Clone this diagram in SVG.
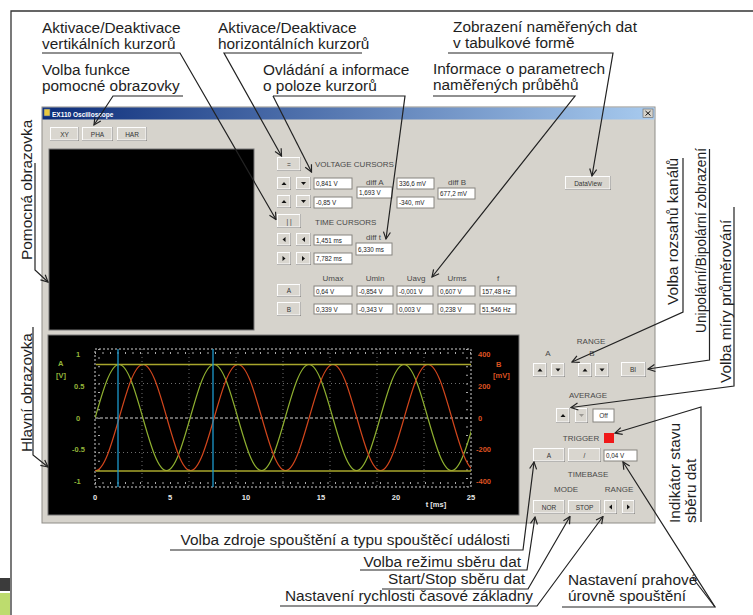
<svg xmlns="http://www.w3.org/2000/svg" width="753" height="615" viewBox="0 0 753 615">
<defs>
<linearGradient id="tb" x1="0" x2="1"><stop offset="0" stop-color="#0c2d7a"/><stop offset="1" stop-color="#a8cbef"/></linearGradient>
<marker id="ar" markerWidth="10" markerHeight="10" refX="0" refY="0" viewBox="-9 -5 10 10" orient="auto" markerUnits="userSpaceOnUse"><path d="M-7,-3.5 L0,0 L-7,3.5" fill="none" stroke="#222" stroke-width="1.2"/></marker>
<clipPath id="pc"><rect x="95" y="345" width="376" height="146"/></clipPath>
</defs>
<style>
.t{font-family:"Liberation Sans",Arial,sans-serif;font-size:15.4px;fill:#1e1e1e}
.c{fill:none;stroke:#222;stroke-width:1.2}
.w{font-family:"Liberation Sans",Arial,sans-serif;font-size:8px;fill:#4a4a4a}
.wm{font-family:"Liberation Sans",Arial,sans-serif;font-size:8px;fill:#4a4a4a;text-anchor:middle}
.bt{font-family:"Liberation Sans",Arial,sans-serif;font-size:6.5px;fill:#333;text-anchor:middle}
.ft{font-family:"Liberation Sans",Arial,sans-serif;font-size:6.3px;fill:#222}
.bs{fill:#6f6d69}
.bf{fill:#d9d6cf;stroke:#fdfdfd;stroke-width:1}
.f{fill:#fff;stroke:#86847f;stroke-width:1}
.ic{fill:#111}
.ax{font-family:"Liberation Sans",Arial,sans-serif;font-size:7.5px;font-weight:bold}
.g{fill:#93b53a}
.r{fill:#dc5222}
.xw{fill:#e8e8e8;text-anchor:middle}
</style>

<!-- page frame -->
<rect x="0" y="0" width="753" height="615" fill="#ffffff"/>
<path d="M11,615 V11 H753" fill="none" stroke="#333" stroke-width="1.3"/>
<rect x="0" y="578" width="10" height="13" fill="#3b3b3b"/>
<rect x="0" y="593" width="10" height="22" fill="#bddc6e"/>

<!-- window -->
<g id="window">
<rect x="42" y="107" width="613" height="416" fill="#d6d3cc" stroke="#8f8d88"/>
<rect x="42.5" y="107.5" width="612" height="12" fill="url(#tb)"/>
<rect x="44" y="109" width="6" height="7" fill="#e8c840" stroke="#3a5aa0" stroke-width="0.6"/>
<text x="52" y="116.5" font-family="Liberation Sans, Arial, sans-serif" font-size="6.5" font-weight="bold" fill="#fff">EX110 Oscilloscope</text>
<rect x="643" y="109" width="10" height="8.5" fill="#d6d3cc" stroke="#666" stroke-width="0.6"/>
<path d="M645.5,111 L650.5,115.5 M650.5,111 L645.5,115.5" stroke="#111" stroke-width="1"/>
</g>

<g id="btn-xy"><rect class="bs" x="50" y="127" width="29" height="14"/><rect class="bf" x="50.5" y="127.5" width="27.5" height="12.5"/><text class="bt" x="64.5" y="136.5">XY</text></g>
<g id="btn-pha"><rect class="bs" x="82" y="127" width="31" height="14"/><rect class="bf" x="82.5" y="127.5" width="29.5" height="12.5"/><text class="bt" x="97.5" y="136.5">PHA</text></g>
<g id="btn-har"><rect class="bs" x="117" y="127" width="30" height="14"/><rect class="bf" x="117.5" y="127.5" width="28.5" height="12.5"/><text class="bt" x="132" y="136.5">HAR</text></g>

<g id="aux-screen"><rect x="49" y="149" width="205" height="181" fill="#000" stroke="#777" stroke-width="1"/></g>

<!-- cursor panel -->
<g id="voltage-cursors">
<rect class="bs" x="277" y="157" width="24" height="14"/><rect class="bf" x="277.5" y="157.5" width="22.5" height="12.5"/><text class="bt" x="289" y="166.5">=</text>
<text class="w" x="315" y="167">VOLTAGE CURSORS</text>
<rect class="bs" x="277" y="177" width="14" height="13"/><rect class="bf" x="277.5" y="177.5" width="12.5" height="11.5"/><polygon class="ic" points="281.5,185 286.5,185 284,182"/>
<rect class="bs" x="296" y="177" width="15" height="13"/><rect class="bf" x="296.5" y="177.5" width="13.5" height="11.5"/><polygon class="ic" points="301,182 306,182 303.5,185"/>
<rect class="f" x="314" y="178" width="38" height="11"/><text class="ft" x="316" y="186">0,841 V</text>
<rect class="bs" x="277" y="195" width="14" height="13"/><rect class="bf" x="277.5" y="195.5" width="12.5" height="11.5"/><polygon class="ic" points="281.5,203 286.5,203 284,200"/>
<rect class="bs" x="296" y="195" width="15" height="13"/><rect class="bf" x="296.5" y="195.5" width="13.5" height="11.5"/><polygon class="ic" points="301,200 306,200 303.5,203"/>
<rect class="f" x="314" y="197" width="38" height="11"/><text class="ft" x="316" y="205">-0,85 V</text>
<text class="w" x="366" y="185">diff A</text>
<rect class="f" x="357" y="187" width="35" height="11"/><text class="ft" x="359" y="195">1,693 V</text>
<rect class="f" x="397" y="178" width="37" height="11"/><text class="ft" x="399" y="186">336,6 mV</text>
<rect class="f" x="397" y="197" width="37" height="11"/><text class="ft" x="399" y="205">-340, mV</text>
<text class="w" x="448" y="185">diff B</text>
<rect class="f" x="438" y="188" width="37" height="11"/><text class="ft" x="440" y="196">677,2 mV</text>
</g>

<g id="time-cursors">
<rect class="bs" x="277" y="214" width="24" height="14"/><rect class="bf" x="277.5" y="214.5" width="22.5" height="12.5"/><text class="bt" x="289" y="223.5">| |</text>
<text class="w" x="315" y="225">TIME CURSORS</text>
<rect class="bs" x="277" y="233" width="14" height="13"/><rect class="bf" x="277.5" y="233.5" width="12.5" height="11.5"/><polygon class="ic" points="285.5,237 285.5,242 282.5,239.5"/>
<rect class="bs" x="296" y="233" width="15" height="13"/><rect class="bf" x="296.5" y="233.5" width="13.5" height="11.5"/><polygon class="ic" points="305,237 305,242 302,239.5"/>
<rect class="f" x="314" y="235" width="38" height="10"/><text class="ft" x="316" y="242.5">1,451 ms</text>
<rect class="bs" x="277" y="252" width="14" height="13"/><rect class="bf" x="277.5" y="252.5" width="12.5" height="11.5"/><polygon class="ic" points="282.5,256 282.5,261 285.5,258.5"/>
<rect class="bs" x="296" y="252" width="15" height="13"/><rect class="bf" x="296.5" y="252.5" width="13.5" height="11.5"/><polygon class="ic" points="302,256 302,261 305,258.5"/>
<rect class="f" x="314" y="253" width="38" height="11"/><text class="ft" x="316" y="261">7,782 ms</text>
<text class="w" x="366" y="240">diff t</text>
<rect class="f" x="356" y="243" width="36" height="12"/><text class="ft" x="358" y="251.5">6,330 ms</text>
</g>

<g id="measurements">
<text class="wm" x="333" y="281">Umax</text>
<text class="wm" x="375" y="281">Umin</text>
<text class="wm" x="416" y="281">Uavg</text>
<text class="wm" x="457" y="281">Urms</text>
<text class="wm" x="498" y="281">f</text>
<rect class="bs" x="277" y="284" width="24" height="13"/><rect class="bf" x="277.5" y="284.5" width="22.5" height="11.5"/><text class="bt" x="289" y="293">A</text>
<rect class="bs" x="277" y="302" width="24" height="14"/><rect class="bf" x="277.5" y="302.5" width="22.5" height="12.5"/><text class="bt" x="289" y="311.5">B</text>
<rect class="f" x="314" y="286" width="38" height="10"/><text class="ft" x="316" y="293.5">0,64 V</text>
<rect class="f" x="357" y="286" width="36" height="10"/><text class="ft" x="359" y="293.5">-0,854 V</text>
<rect class="f" x="397" y="286" width="36" height="10"/><text class="ft" x="399" y="293.5">-0,001 V</text>
<rect class="f" x="438" y="286" width="37" height="10"/><text class="ft" x="440" y="293.5">0,607 V</text>
<rect class="f" x="480" y="286" width="36" height="10"/><text class="ft" x="482" y="293.5">157,48 Hz</text>
<rect class="f" x="314" y="304" width="38" height="10"/><text class="ft" x="316" y="311.5">0,339 V</text>
<rect class="f" x="357" y="304" width="36" height="10"/><text class="ft" x="359" y="311.5">-0,343 V</text>
<rect class="f" x="397" y="304" width="36" height="10"/><text class="ft" x="399" y="311.5">0,003 V</text>
<rect class="f" x="438" y="304" width="37" height="10"/><text class="ft" x="440" y="311.5">0,238 V</text>
<rect class="f" x="480" y="304" width="36" height="10"/><text class="ft" x="482" y="311.5">51,546 Hz</text>
</g>

<g id="btn-dataview"><rect class="bs" x="565" y="176" width="46" height="14"/><rect class="bf" x="565.5" y="176.5" width="44.5" height="12.5"/><text class="bt" x="588" y="185.5">DataView</text></g>

<!-- main screen -->
<g id="main-screen">
<rect x="48" y="335" width="471" height="180" fill="#000" stroke="#777" stroke-width="1"/>
<g stroke="#8a8a8a" stroke-width="0.8" stroke-dasharray="1,3">
<path d="M142,349 V487 M189,349 V487 M236,349 V487 M283,349 V487 M330,349 V487 M377,349 V487 M424,349 V487"/>
<path d="M95,383.5 H471 M95,452.5 H471"/>
</g>
<g stroke="#d0d0d0" stroke-width="1" fill="none">
<rect x="95" y="349" width="376" height="138" stroke-dasharray="2,2"/>
<path d="M95,418 H471" stroke-dasharray="3,2"/>
<path d="M95,353 H471 M95,483 H471" stroke-dasharray="1,6.5" stroke-width="2" stroke="#aaa"/>
<path d="M99,349 V487 M467,349 V487" stroke-dasharray="1,7.6" stroke-width="2" stroke="#aaa"/>
</g>
<g clip-path="url(#pc)" fill="none" stroke-width="1.2">
<path stroke="#8fb030" d="M95.25,417.5 c7.94,-27.83 15.2,-53 23.75,-53 c8.55,0 15.81,25.17 23.75,53 c7.94,27.83 15.2,53 23.75,53 c8.55,0 15.81,-25.17 23.75,-53 c7.94,-27.83 15.2,-53 23.75,-53 c8.55,0 15.81,25.17 23.75,53 c7.94,27.83 15.2,53 23.75,53 c8.55,0 15.81,-25.17 23.75,-53 c7.94,-27.83 15.2,-53 23.75,-53 c8.55,0 15.81,25.17 23.75,53 c7.94,27.83 15.2,53 23.75,53 c8.55,0 15.81,-25.17 23.75,-53 c7.94,-27.83 15.2,-53 23.75,-53 c8.55,0 15.81,25.17 23.75,53 c7.94,27.83 15.2,53 23.75,53 c8.55,0 15.81,-25.17 23.75,-53"/>
<path stroke="#d2461c" d="M71.75,417.5 c7.94,27.83 15.2,53 23.75,53 c8.55,0 15.81,-25.17 23.75,-53 c7.94,-27.83 15.2,-53 23.75,-53 c8.55,0 15.81,25.17 23.75,53 c7.94,27.83 15.2,53 23.75,53 c8.55,0 15.81,-25.17 23.75,-53 c7.94,-27.83 15.2,-53 23.75,-53 c8.55,0 15.81,25.17 23.75,53 c7.94,27.83 15.2,53 23.75,53 c8.55,0 15.81,-25.17 23.75,-53 c7.94,-27.83 15.2,-53 23.75,-53 c8.55,0 15.81,25.17 23.75,53 c7.94,27.83 15.2,53 23.75,53 c8.55,0 15.81,-25.17 23.75,-53 c7.94,-27.83 15.2,-53 23.75,-53 c8.55,0 15.81,25.17 23.75,53 c7.94,27.83 15.2,53 23.75,53"/>
</g>
<path d="M96,364.5 H471 M96,471 H471" stroke="#a8a62c" stroke-width="1.3"/>
<path d="M118,349 V487 M213,349 V487" stroke="#1c98cc" stroke-width="1.3"/>
<g class="ax g">
<text x="76" y="357">1</text><text x="74" y="389">0.5</text><text x="76" y="420.5">0</text><text x="72" y="451.5">-0.5</text><text x="74" y="484">-1</text>
<text x="58" y="366">A</text><text x="56" y="378">[V]</text>
</g>
<g class="ax r">
<text x="478" y="357">400</text><text x="478" y="389">200</text><text x="478" y="420.5">0</text><text x="476" y="451.5">-200</text><text x="476" y="484">-400</text>
<text x="496" y="367">B</text><text x="493" y="378">[mV]</text>
</g>
<g class="ax xw">
<text x="95" y="500">0</text><text x="170" y="500">5</text><text x="246" y="500">10</text><text x="321" y="500">15</text><text x="396" y="500">20</text><text x="471" y="500">25</text>
<text x="436" y="507">t [ms]</text>
</g>
</g>

<!-- right control panel -->
<g id="range-panel">
<text class="wm" x="591" y="344">RANGE</text>
<text class="wm" x="548" y="356">A</text>
<text class="wm" x="592" y="356">B</text>
<rect class="bs" x="533" y="363" width="14" height="14"/><rect class="bf" x="533.5" y="363.5" width="12.5" height="12.5"/><polygon class="ic" points="537.5,371.5 542.5,371.5 540,368.5"/>
<rect class="bs" x="551" y="363" width="14" height="14"/><rect class="bf" x="551.5" y="363.5" width="12.5" height="12.5"/><polygon class="ic" points="555.5,368.5 560.5,368.5 558,371.5"/>
<rect class="bs" x="578" y="363" width="14" height="14"/><rect class="bf" x="578.5" y="363.5" width="12.5" height="12.5"/><polygon class="ic" points="582.5,371.5 587.5,371.5 585,368.5"/>
<rect class="bs" x="595" y="363" width="14" height="14"/><rect class="bf" x="595.5" y="363.5" width="12.5" height="12.5"/><polygon class="ic" points="599.5,368.5 604.5,368.5 602,371.5"/>
<rect class="bs" x="621" y="362" width="25" height="15"/><rect class="bf" x="621.5" y="362.5" width="23.5" height="13.5"/><text class="bt" x="633" y="372">BI</text>
</g>
<g id="average-panel">
<text class="wm" x="588" y="398">AVERAGE</text>
<rect class="bs" x="556" y="408" width="14" height="15"/><rect class="bf" x="556.5" y="408.5" width="12.5" height="13.5"/><polygon class="ic" points="560.5,417 565.5,417 563,414"/>
<rect class="bs" x="575" y="408" width="13" height="15"/><rect class="bf" x="575.5" y="408.5" width="11.5" height="13.5"/><polygon fill="#9a9893" points="579,414 584,414 581.5,417"/>
<rect class="f" x="593" y="409" width="21" height="13"/><text class="bt" x="603.5" y="418">Off</text>
</g>
<g id="trigger-panel">
<text class="wm" x="581" y="441">TRIGGER</text>
<rect x="604" y="433" width="10" height="10" fill="#f01818"/>
<rect class="bs" x="533" y="448" width="32" height="14"/><rect class="bf" x="533.5" y="448.5" width="30.5" height="12.5"/><text class="bt" x="549" y="457.5">A</text>
<rect class="bs" x="568" y="448" width="33" height="14"/><rect class="bf" x="568.5" y="448.5" width="31.5" height="12.5"/><text class="bt" x="584.5" y="457.5">/</text>
<rect class="f" x="604" y="450" width="33" height="11"/><text class="ft" x="606" y="458">0,04 V</text>
</g>
<g id="timebase-panel">
<text class="wm" x="588" y="477">TIMEBASE</text>
<text class="wm" x="566" y="492">MODE</text>
<text class="wm" x="619" y="492">RANGE</text>
<rect class="bs" x="533" y="500" width="32" height="14"/><rect class="bf" x="533.5" y="500.5" width="30.5" height="12.5"/><text class="bt" x="549" y="509.5">NOR</text>
<rect class="bs" x="568" y="500" width="33" height="14"/><rect class="bf" x="568.5" y="500.5" width="31.5" height="12.5"/><text class="bt" x="584.5" y="509.5">STOP</text>
<rect class="bs" x="604" y="500" width="13" height="14"/><rect class="bf" x="604.5" y="500.5" width="11.5" height="12.5"/><polygon class="ic" points="612,504.5 612,509.5 609,507"/>
<rect class="bs" x="622" y="500" width="13" height="14"/><rect class="bf" x="622.5" y="500.5" width="11.5" height="12.5"/><polygon class="ic" points="627,504.5 627,509.5 630,507"/>
</g>

<!-- annotation labels -->
<g id="lbl-vert-cursors"><text class="t" x="42" y="32.5">Aktivace/Deaktivace</text><text class="t" x="42" y="49">vertikálních kurzorů</text></g>
<g id="lbl-horiz-cursors"><text class="t" x="218" y="32.5">Aktivace/Deaktivace</text><text class="t" x="218" y="49">horizontálních kurzorů</text></g>
<g id="lbl-aux-func"><text class="t" x="42" y="74.5">Volba funkce</text><text class="t" x="42" y="90.5">pomocné obrazovky</text></g>
<g id="lbl-cursor-ctrl"><text class="t" x="263" y="74.5">Ovládání a informace</text><text class="t" x="263" y="90.5">o poloze kurzorů</text></g>
<g id="lbl-dataview"><text class="t" x="453" y="32">Zobrazení naměřených dat</text><text class="t" x="453" y="48">v tabulkové formě</text></g>
<g id="lbl-params"><text class="t" x="433" y="74">Informace o parametrech</text><text class="t" x="433" y="89.5">naměřených průběhů</text></g>
<g id="lbl-aux-screen"><text class="t" transform="translate(31.5,260) rotate(-90)">Pomocná obrazovka</text></g>
<g id="lbl-main-screen"><text class="t" transform="translate(32,452) rotate(-90)">Hlavní obrazovka</text></g>
<g id="lbl-range"><text class="t" transform="translate(678,305) rotate(-90)">Volba rozsahů kanálů</text></g>
<g id="lbl-unibi"><text class="t" transform="translate(706,333) rotate(-90)" textLength="185" lengthAdjust="spacingAndGlyphs">Unipolární/Bipolární zobrazení</text></g>
<g id="lbl-average"><text class="t" transform="translate(730.5,383) rotate(-90)">Volba míry průměrování</text></g>
<g id="lbl-indicator"><text class="t" transform="translate(679.5,523) rotate(-90)">Indikátor stavu</text><text class="t" transform="translate(696,523) rotate(-90)">sběru dat</text></g>
<g id="lbl-trig-src"><text class="t" x="510" y="545" text-anchor="end">Volba zdroje spouštění a typu spouštěcí události</text></g>
<g id="lbl-mode"><text class="t" x="521" y="566.5" text-anchor="end">Volba režimu sběru dat</text></g>
<g id="lbl-startstop"><text class="t" x="525" y="583.5" text-anchor="end">Start/Stop sběru dat</text></g>
<g id="lbl-timebase"><text class="t" x="533" y="600.5" text-anchor="end">Nastavení rychlosti časové základny</text></g>
<g id="lbl-threshold"><text class="t" x="568" y="585">Nastavení prahové</text><text class="t" x="568" y="601">úrovně spouštění</text></g>

<!-- connectors -->
<g id="connectors" class="c">
<path d="M42,53 H180 L276,219.5" marker-end="url(#ar)"/>
<path d="M362,53 H224 L281.5,156" marker-end="url(#ar)"/>
<path d="M183,96 H113 L94,125" marker-end="url(#ar)"/>
<path d="M273,96 L311.5,172" marker-end="url(#ar)"/>
<path d="M273,96 H405 L386,239" marker-end="url(#ar)"/>
<path d="M448,53 H613 L592,176" marker-end="url(#ar)"/>
<path d="M433,96 H575 L432,277" marker-end="url(#ar)"/>
<path d="M35,163 V270 L48,282" marker-end="url(#ar)"/>
<path d="M33,327 V455 L48,467" marker-end="url(#ar)"/>
<path d="M683,158 V312 L572,362" marker-end="url(#ar)"/>
<path d="M709.5,149 V360 L648,369" marker-end="url(#ar)"/>
<path d="M734,207 V386 L571,407.5" marker-end="url(#ar)"/>
<path d="M701,522 V407 L615,433" marker-end="url(#ar)"/>
<path d="M170,550 H523 L534,462" marker-end="url(#ar)"/>
<path d="M360,570 H527 L535,517" marker-end="url(#ar)"/>
<path d="M382,589 H528 L570,516.5" marker-end="url(#ar)"/>
<path d="M280,606 H537 L603,516.5" marker-end="url(#ar)"/>
<path d="M562,607 H715 L623,462" marker-end="url(#ar)"/>
<path d="M692,577 L715,607"/>
</g>
</svg>
